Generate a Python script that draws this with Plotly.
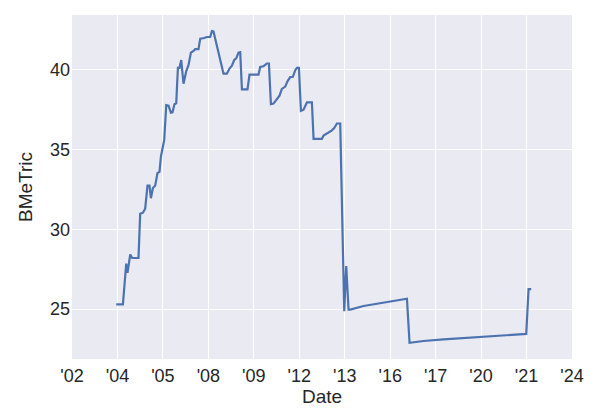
import plotly.graph_objects as go

# x positions expressed in tick-index units (0 = '02 tick, 11 = '24 tick)
date_pos = [0.973, 1.120, 1.193, 1.221, 1.281, 1.325, 1.463, 1.500, 1.560, 1.610,
            1.661, 1.705, 1.736, 1.780, 1.831, 1.881, 1.925, 1.956, 2.029, 2.073,
            2.123, 2.176, 2.211, 2.255, 2.293, 2.330, 2.365, 2.403, 2.453, 2.513,
            2.563, 2.616, 2.673, 2.711, 2.783, 2.821, 2.909, 2.968, 3.041, 3.078,
            3.113, 3.333, 3.408, 3.465, 3.518, 3.569, 3.613, 3.663, 3.701, 3.738,
            3.861, 3.905, 4.103, 4.141, 4.213, 4.288, 4.332, 4.376, 4.433, 4.508,
            4.565, 4.618, 4.691, 4.741, 4.801, 4.860, 4.911, 4.948, 4.992, 5.036,
            5.094, 5.168, 5.278, 5.314, 5.498, 5.534, 5.593, 5.644, 5.718, 5.769,
            5.828, 5.901, 5.989, 6.033, 6.084, 6.121, 6.414, 6.708, 6.854, 7.111,
            7.369, 7.426, 7.734, 8.174, 8.834, 9.569, 9.993, 10.044, 10.103]
bmetric = [25.29, 25.29, 27.85, 27.27, 28.42, 28.20, 28.20, 30.97, 31.04, 31.29,
           32.74, 32.74, 31.95, 32.59, 32.74, 33.53, 33.60, 34.55, 35.60, 37.78,
           37.75, 37.31, 37.33, 37.84, 37.90, 40.12, 40.12, 40.61, 39.12, 39.91,
           40.29, 41.07, 41.18, 41.29, 41.29, 41.95, 41.99, 42.05, 42.05, 42.42,
           42.40, 39.75, 39.75, 40.07, 40.25, 40.61, 40.71, 41.07, 41.10, 38.77,
           38.77, 39.69, 39.69, 40.18, 40.22, 40.39, 40.39, 37.84, 37.88, 38.12,
           38.37, 38.80, 38.94, 39.27, 39.54, 39.56, 39.97, 40.12, 40.12, 37.42,
           37.50, 37.95, 37.95, 35.67, 35.67, 35.88, 35.99, 36.06, 36.20, 36.35,
           36.63, 36.63, 24.87, 27.69, 24.97, 24.97, 25.19, 25.33, 25.40, 25.55,
           25.65, 22.89, 23.00, 23.10, 23.23, 23.34, 23.44, 26.25, 26.25]

tick_pos = list(range(12))
tick_labels = ["'02", "'04", "'05", "'08", "'09", "'12", "'13", "'16", "'17", "'20", "'21", "'24"]
y_ticks = [25, 30, 35, 40]

fig = go.Figure()
fig.add_trace(go.Scatter(x=date_pos, y=bmetric, mode="lines",
                         line=dict(color="#4C72B0", width=2.2), showlegend=False))

fam = "Liberation Sans, Arial, sans-serif"
tick_font = dict(family=fam, size=18, color="#262626")
title_font = dict(family=fam, size=19, color="#262626")
# page body has an 8px default margin, so the figure is shrunk by 8px
fig.update_layout(
    width=592, height=412,
    margin=dict(l=64, r=28, t=7, b=61),
    paper_bgcolor="white", plot_bgcolor="#EAEAF2",
    font=dict(family=fam, color="#262626"),
    xaxis=dict(range=[0, 11], tickvals=tick_pos, ticktext=tick_labels,
               tickfont=tick_font, automargin=False, ticklabelstandoff=4,
               showgrid=True, gridcolor="white", gridwidth=1, zeroline=False,
               showline=False, ticks="",
               title=dict(text="Date", font=title_font, standoff=0)),
    yaxis=dict(range=[21.87, 43.43], tickvals=y_ticks,
               tickfont=tick_font, automargin=False, ticklabelstandoff=1,
               showgrid=True, gridcolor="white", gridwidth=1, zeroline=False,
               showline=False, ticks="",
               title=dict(text="BMeTric", font=title_font, standoff=12)),
)
fig.write_html("out.html")
